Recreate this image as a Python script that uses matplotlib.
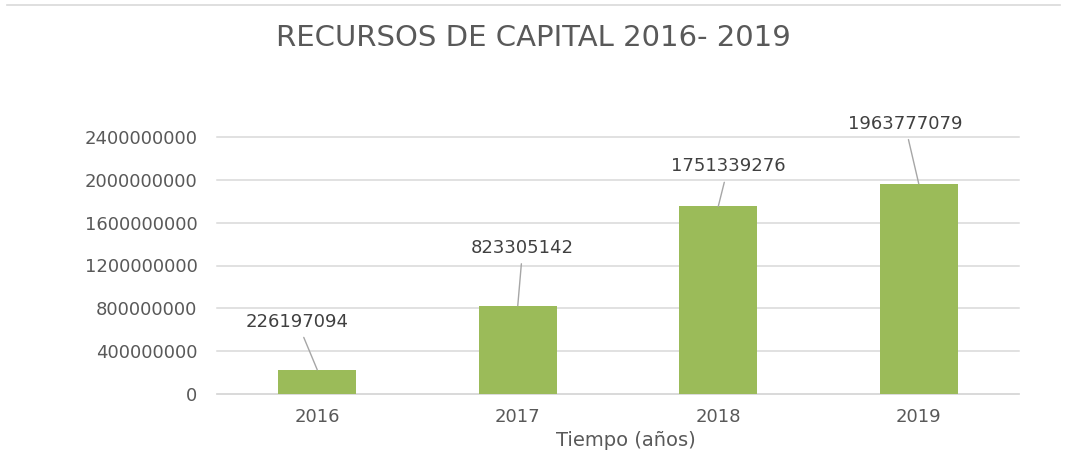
import matplotlib
matplotlib.use("Agg")
import matplotlib.pyplot as plt
from matplotlib.lines import Line2D
from matplotlib.ticker import FuncFormatter, MultipleLocator

# data
years = ["2016", "2017", "2018", "2019"]
capital = [226197094, 823305142, 1751339276, 1963777079]

# where each callout label sits relative to its bar top (pixels)
label_dx = [-20, 5, 10, -14]
label_dy = [48, 58, 40, 60]

BAR = "#9bbb59"
GRID = "#d9d9d9"
TICK = "#595959"
LABEL = "#404040"

plt.rcParams["font.family"] = "DejaVu Sans"

fig = plt.figure(figsize=(10.88, 4.63), dpi=100)
ax = fig.add_axes([217 / 1088, 69 / 463, 802 / 1088, 257 / 463])

x = range(len(years))
bars = ax.bar(x, capital, width=0.39, color=BAR, zorder=3)

ax.set_xlim(-0.5, len(years) - 0.5)
ax.set_ylim(0, 2400000000)
ax.yaxis.set_major_locator(MultipleLocator(400000000))
ax.yaxis.set_major_formatter(FuncFormatter(lambda v, _: f"{int(v)}"))
ax.set_xticks(list(x))
ax.set_xticklabels(years)

ax.grid(axis="y", color=GRID, lw=1.1, zorder=0)
for gl in ax.get_ygridlines():
    gl.set_clip_on(False)
for s in ["top", "right", "left"]:
    ax.spines[s].set_visible(False)
ax.spines["bottom"].set_color(GRID)
ax.spines["bottom"].set_linewidth(1.1)
ax.tick_params(axis="both", length=0, labelsize=13, colors=TICK)
ax.tick_params(axis="y", pad=14)
ax.tick_params(axis="x", pad=10)

ax.set_xlabel("Tiempo (años)", fontsize=14, color=TICK, labelpad=4)
ax.xaxis.label.set_x(0.51)

for xi, v, dx, dy in zip(x, capital, label_dx, label_dy):
    ax.annotate(f"{v}", xy=(xi, v), xytext=(dx, dy), textcoords="offset pixels",
                ha="center", va="center", fontsize=13, color=LABEL,
                arrowprops=dict(arrowstyle="-", color="#a6a6a6", lw=1.0,
                                shrinkA=3, shrinkB=0))

fig.text(533 / 1088, 1 - 38 / 463, "RECURSOS DE CAPITAL 2016- 2019",
         ha="center", va="center", fontsize=21, color=TICK)

# faint border along the top of the sheet
fig.add_artist(Line2D([7 / 1088, 1060 / 1088], [1 - 5 / 463, 1 - 5 / 463],
                      color=GRID, lw=1.2))

fig.savefig("out.png", dpi=100)
